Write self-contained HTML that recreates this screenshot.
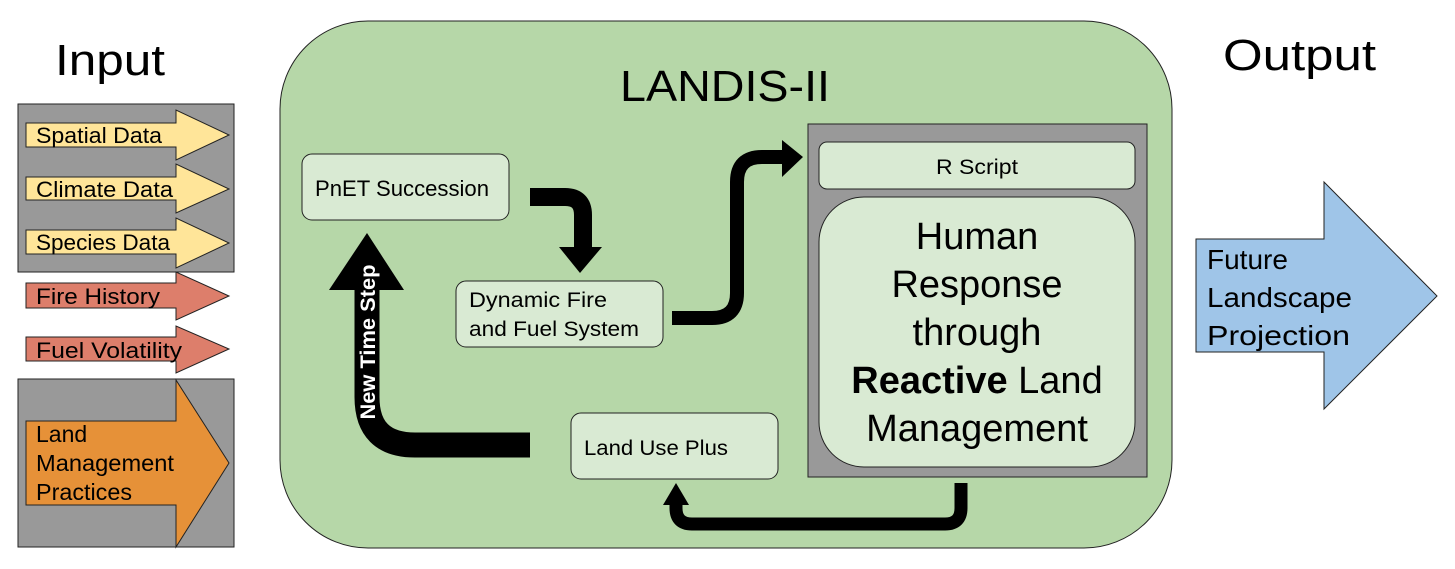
<!DOCTYPE html>
<html><head><meta charset="utf-8"><style>
body{margin:0;background:#fff}
svg{display:block;font-family:"Liberation Sans",sans-serif}
</style></head><body>
<svg width="1455" height="569" viewBox="0 0 1455 569" xmlns="http://www.w3.org/2000/svg">
<text x="55" y="75" font-size="44" textLength="110" lengthAdjust="spacingAndGlyphs">Input</text>
<text x="1223" y="70" font-size="44" textLength="153" lengthAdjust="spacingAndGlyphs">Output</text>
<rect x="280" y="21" width="892" height="527" rx="88" ry="88" fill="#b6d7a8" stroke="#222" stroke-width="1"/>
<text x="725" y="101" font-size="44" text-anchor="middle" textLength="210" lengthAdjust="spacingAndGlyphs">LANDIS-II</text>

<rect x="18" y="104" width="216" height="168" fill="#999" stroke="#222"/>
<g stroke="#222" stroke-width="1">
<polygon points="26,123 176,123 176,110 229,135 176,160 176,147 26,147" fill="#ffe599"/>
<polygon points="26,177 176,177 176,164 229,189 176,213 176,200 26,200" fill="#ffe599"/>
<polygon points="26,230 176,230 176,218 229,243 176,268 176,254 26,254" fill="#ffe599"/>
<polygon points="26,283 176,283 176,272 229,296 176,320 176,308 26,308" fill="#dd7e6b"/>
<polygon points="26,337 176,337 176,326 229,349 176,373 176,361 26,361" fill="#dd7e6b"/>
</g>
<g font-size="22">
<text x="36" y="143" textLength="126" lengthAdjust="spacingAndGlyphs">Spatial Data</text>
<text x="36" y="197" textLength="137" lengthAdjust="spacingAndGlyphs">Climate Data</text>
<text x="36" y="250" textLength="134" lengthAdjust="spacingAndGlyphs">Species Data</text>
<text x="36" y="304" textLength="124" lengthAdjust="spacingAndGlyphs">Fire History</text>
<text x="36" y="358" textLength="146" lengthAdjust="spacingAndGlyphs">Fuel Volatility</text>
</g>
<rect x="18" y="379" width="216" height="168" fill="#999" stroke="#222"/>
<polygon points="26,421 176,421 176,380 229,463 176,547 176,505 26,505" fill="#e69138" stroke="#222"/>
<g font-size="23"><text x="36" y="442">Land</text><text x="36" y="471" textLength="138" lengthAdjust="spacingAndGlyphs">Management</text><text x="36" y="500" textLength="96" lengthAdjust="spacingAndGlyphs">Practices</text></g>

<g fill="#d9ead3" stroke="#222" stroke-width="1">
<rect x="302" y="154" width="207" height="66" rx="10"/>
<rect x="456" y="281" width="207" height="66" rx="10"/>
<rect x="571" y="413" width="207" height="66" rx="10"/>
</g>
<text x="315" y="196" font-size="22" textLength="174" lengthAdjust="spacingAndGlyphs">PnET Succession</text>
<text x="469" y="307" font-size="21" textLength="138" lengthAdjust="spacingAndGlyphs">Dynamic Fire</text>
<text x="469" y="336" font-size="21" textLength="170" lengthAdjust="spacingAndGlyphs">and Fuel System</text>
<text x="584" y="455" font-size="21" textLength="144" lengthAdjust="spacingAndGlyphs">Land Use Plus</text>

<rect x="808" y="124" width="339" height="353" fill="#999" stroke="#222"/>
<rect x="819" y="142" width="316" height="47" rx="8" fill="#d9ead3" stroke="#222"/>
<text x="977" y="174" font-size="21" text-anchor="middle" textLength="82" lengthAdjust="spacingAndGlyphs">R Script</text>
<rect x="819" y="197" width="316" height="270" rx="45" fill="#d9ead3" stroke="#222"/>
<g font-size="38" text-anchor="middle">
<text x="977" y="249">Human</text>
<text x="977" y="297">Response</text>
<text x="977" y="345">through</text>
<text x="977" y="393"><tspan font-weight="bold">Reactive</tspan> Land</text>
<text x="977" y="441">Management</text>
</g>

<g fill="none" stroke="#000" stroke-linejoin="round">
<path d="M530,197 H565 Q583,197 583,215 V250" stroke-width="18"/>
<path d="M672,318 H712 Q737,318 737,293 V182 Q737,157 762,157 H784" stroke-width="14"/>
<path d="M530,445 H415 Q367,445 367,397 V288" stroke-width="25"/>
<path d="M961,483 V508 Q961,524 945,524 H692 Q676,524 676,508 V503" stroke-width="13"/>
</g>
<polygon points="559,247 602,247 580,273" fill="#000"/>
<polygon points="782,140 803,157 782,177" fill="#000"/>
<polygon points="329,290 404,290 367,233" fill="#000"/>
<polygon points="663,505 689,505 676,483" fill="#000"/>
<text x="0" y="0" font-size="21" font-weight="bold" fill="#fff" text-anchor="middle" textLength="155" lengthAdjust="spacingAndGlyphs" transform="translate(375,342) rotate(-90)">New Time Step</text>

<polygon points="1196,239 1324,239 1324,182 1437,296 1324,409 1324,352 1196,352" fill="#9fc5e8" stroke="#222"/>
<g font-size="28"><text x="1207" y="269">Future</text><text x="1207" y="307" textLength="145" lengthAdjust="spacingAndGlyphs">Landscape</text><text x="1207" y="345" textLength="143" lengthAdjust="spacingAndGlyphs">Projection</text></g>
</svg>
</body></html>
